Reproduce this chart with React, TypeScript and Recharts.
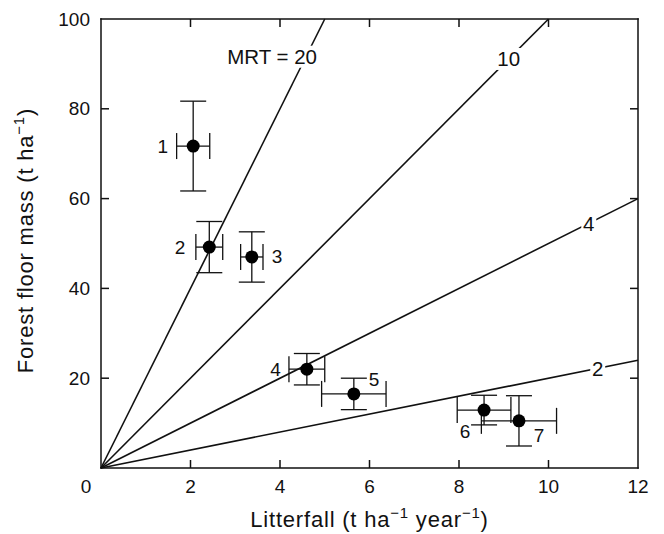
import { ScatterChart, Scatter, XAxis, YAxis, ErrorBar, ReferenceLine, ReferenceDot, Label } from 'recharts';

const sites = ['1', '2', '3', '4', '5', '6', '7'];
const litterfall = [2.06, 2.42, 3.37, 4.6, 5.65, 8.56, 9.34];
const floorMass = [71.7, 49.2, 47, 22, 16.5, 12.9, 10.5];
const litterErr = [0.37, 0.3, 0.25, 0.4, 0.72, 0.6, 0.84];
const massErr = [10, 5.7, 5.6, 3.5, 3.5, 3.3, 5.6];

// mean residence time lines through origin
const mrtSlopes = [20, 10, 5, 2];
const mrtLabels = ['MRT = 20', '10', '4', '2'];
const mrtLabelX = [4.58, 9.11, 10.9, 11.1];

const xTicks = [0, 2, 4, 6, 8, 10, 12];
const yTicks = [0, 20, 40, 60, 80, 100];

const X_MAX = 12;
const Y_MAX = 100;

const W = 664;
const H = 534;
const MARGIN = { top: 19, right: 26, bottom: 0, left: 0 };
const Y_AXIS_W = 101;
const X_AXIS_H = 66;
const PLOT_L = MARGIN.left + Y_AXIS_W;
const PLOT_T = MARGIN.top;
const PLOT_W = W - MARGIN.left - MARGIN.right - Y_AXIS_W;
const PLOT_H = H - MARGIN.top - X_AXIS_H;
const TICK_LEN = 8;
const LW = 1.5;

const FONT = '"Liberation Sans", Arial, Helvetica, sans-serif';
const INK = '#111';

const points = sites.map((site, i) => ({
  site,
  x: litterfall[i],
  y: floorMass[i],
  ex: litterErr[i],
  ey: massErr[i],
}));

const siteLabelOffset: Record<string, [number, number, 'start' | 'end' | 'middle']> = {
  '1': [-25, 0, 'end'],
  '2': [-24, 0, 'end'],
  '3': [20, 0, 'start'],
  '4': [-26, 0, 'end'],
  '5': [15, -14, 'start'],
  '6': [-19, 21, 'middle'],
  '7': [20, 15, 'middle'],
};

function BottomTick(props: any) {
  const { x, y, payload } = props;
  const v = payload.value;
  return (
    <text
      x={v === 0 ? x - 15 : x}
      y={y + 18}
      textAnchor="middle"
      dominantBaseline="central"
      fontSize={19}
      fontFamily={FONT}
      fill={INK}
    >
      {v}
    </text>
  );
}

function LeftTick(props: any) {
  const { x, y, payload } = props;
  const v = payload.value;
  if (v === 0) return <g />;
  return (
    <text x={x - 11} y={y} textAnchor="end" dominantBaseline="central" fontSize={19} fontFamily={FONT} fill={INK}>
      {v}
    </text>
  );
}

function XTitle(props: any) {
  const { viewBox } = props;
  const cx = viewBox.x + viewBox.width / 2;
  return (
    <text x={cx} y={viewBox.y + 59} textAnchor="middle" fontSize={22} letterSpacing={0.8} fontFamily={FONT} fill={INK}>
      Litterfall (t ha<tspan dy={-9} fontSize={15}>−1</tspan>
      <tspan dy={9}> year</tspan>
      <tspan dy={-9} fontSize={15}>−1</tspan>
      <tspan dy={9}>)</tspan>
    </text>
  );
}

function YTitle(props: any) {
  const { viewBox } = props;
  const cy = viewBox.y + viewBox.height / 2 - 3;
  const bx = 33;
  return (
    <text
      x={bx}
      y={cy}
      transform={`rotate(-90 ${bx} ${cy})`}
      textAnchor="middle"
      fontSize={22}
      letterSpacing={0.8}
      fontFamily={FONT}
      fill={INK}
    >
      Forest floor mass (t ha<tspan dy={-9} fontSize={15}>−1</tspan>
      <tspan dy={9}>)</tspan>
    </text>
  );
}

function SitePoint(props: any) {
  const { cx, cy, payload } = props;
  const [dx, dy, anchor] = siteLabelOffset[payload.site];
  return (
    <g>
      <circle cx={cx} cy={cy} r={6.5} fill="#000" />
      <text
        x={cx + dx}
        y={cy + dy}
        textAnchor={anchor}
        dominantBaseline="central"
        fontSize={19}
        fontFamily={FONT}
        fill={INK}
      >
        {payload.site}
      </text>
    </g>
  );
}

function mrtLabelShape(text: string, isMain: boolean) {
  return (props: any) => {
    const { cx, cy } = props;
    const w = isMain ? 96 : text.length * 11 + 4;
    const x0 = isMain ? cx + 13 - w : cx - w / 2;
    return (
      <g>
        <rect x={x0} y={cy - 11} width={w} height={22} fill="#fff" />
        <text
          x={isMain ? cx + 11 : cx}
          y={cy}
          textAnchor={isMain ? 'end' : 'middle'}
          dominantBaseline="central"
          fontSize={20.5}
          fontFamily={FONT}
          fill={INK}
        >
          {text}
        </text>
      </g>
    );
  };
}

const innerX = xTicks.filter((v) => v > 0 && v < X_MAX);
const innerY = yTicks.filter((v) => v > 0 && v < Y_MAX);

// box frame with inward ticks, laid over the chart
function Frame() {
  const px = (v: number) => PLOT_L + (v / X_MAX) * PLOT_W;
  const py = (v: number) => PLOT_T + PLOT_H - (v / Y_MAX) * PLOT_H;
  const h = LW / 2;
  const bottom = PLOT_T + PLOT_H;
  const right = PLOT_L + PLOT_W;
  return (
    <svg width={W} height={H} style={{ position: 'absolute', left: 0, top: 0, pointerEvents: 'none' }}>
      <rect x={PLOT_L - h} y={PLOT_T - h} width={LW} height={PLOT_H + LW} fill={INK} />
      <rect x={right - h} y={PLOT_T - h} width={LW} height={PLOT_H + LW} fill={INK} />
      <rect x={PLOT_L - h} y={PLOT_T - h} width={PLOT_W + LW} height={LW} fill={INK} />
      <rect x={PLOT_L - h} y={bottom - h} width={PLOT_W + LW} height={LW} fill={INK} />
      {innerX.map((v) => (
        <g key={`x${v}`}>
          <rect x={px(v) - h} y={bottom - TICK_LEN} width={LW} height={TICK_LEN} fill={INK} />
          <rect x={px(v) - h} y={PLOT_T} width={LW} height={TICK_LEN} fill={INK} />
        </g>
      ))}
      {innerY.map((v) => (
        <g key={`y${v}`}>
          <rect x={PLOT_L} y={py(v) - h} width={TICK_LEN} height={LW} fill={INK} />
          <rect x={right - TICK_LEN} y={py(v) - h} width={TICK_LEN} height={LW} fill={INK} />
        </g>
      ))}
    </svg>
  );
}

export default function App() {
  return (
    <div style={{ position: 'absolute', left: 0, top: 0, width: W, height: H, background: '#fff' }}>
      <ScatterChart width={W} height={H} margin={MARGIN}>
        <XAxis
          type="number"
          dataKey="x"
          domain={[0, X_MAX]}
          ticks={xTicks}
          interval={0}
          height={X_AXIS_H}
          tickSize={0}
          tickMargin={0}
          tickLine={false}
          axisLine={false}
          tick={<BottomTick />}
          label={<Label content={<XTitle />} />}
        />
        <YAxis
          type="number"
          dataKey="y"
          domain={[0, Y_MAX]}
          ticks={yTicks}
          interval={0}
          width={Y_AXIS_W}
          tickSize={0}
          tickMargin={0}
          tickLine={false}
          axisLine={false}
          tick={<LeftTick />}
          label={<Label content={<YTitle />} />}
        />
        {mrtSlopes.map((s) => {
          const xEnd = Math.min(X_MAX, Y_MAX / s);
          return (
            <ReferenceLine
              key={`l${s}`}
              segment={[
                { x: 0, y: 0 },
                { x: xEnd, y: s * xEnd },
              ]}
              stroke={INK}
              strokeWidth={1.6}
              ifOverflow="visible"
            />
          );
        })}
        {mrtSlopes.map((s, i) => (
          <ReferenceDot
            key={`d${s}`}
            x={mrtLabelX[i]}
            y={s * mrtLabelX[i]}
            r={1}
            ifOverflow="visible"
            shape={mrtLabelShape(mrtLabels[i], i === 0)}
          />
        ))}
        <Scatter data={points} isAnimationActive={false} shape={<SitePoint />}>
          <ErrorBar dataKey="ex" direction="x" width={13} stroke={INK} strokeWidth={1.3} />
          <ErrorBar dataKey="ey" direction="y" width={13} stroke={INK} strokeWidth={1.3} />
        </Scatter>
      </ScatterChart>
      <Frame />
    </div>
  );
}
